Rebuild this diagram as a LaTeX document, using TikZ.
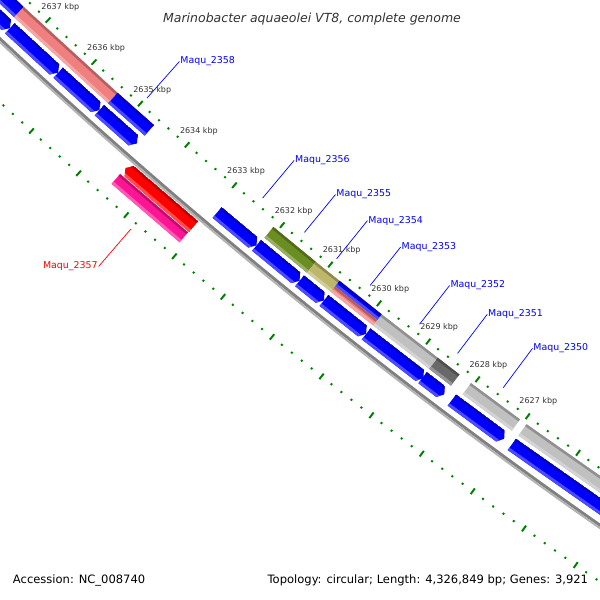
\documentclass[tikz,border=0pt]{standalone}
\usepackage{fontspec}
\setmainfont{DejaVu Sans}

\definecolor{cdsblue}{RGB}{0,0,255}
\definecolor{cdsred}{RGB}{255,0,0}
\definecolor{cogsalmon}{RGB}{240,128,128}
\definecolor{cogolive}{RGB}{107,142,35}
\definecolor{cogkhaki}{RGB}{189,183,107}
\definecolor{coggray}{RGB}{192,192,192}
\definecolor{cogdim}{RGB}{105,105,105}
\definecolor{cogpink}{RGB}{255,20,147}
\definecolor{tickgreen}{RGB}{0,128,0}
\definecolor{backbone}{RGB}{128,128,128}
\definecolor{ticktext}{RGB}{51,51,51}

% shaded band: from #1 to #2 kbp, radii #3 (inner) to #4 (outer), colour #5
\newcommand\featband[5]{%
  \fill[#5] ({ang(#1)}:{#3}) -- ({ang(#2)}:{#3}) -- ({ang(#2)}:{#4}) -- ({ang(#1)}:{#4}) -- cycle;
  \fill[#5!75!black] ({ang(#1)}:{#3}) -- ({ang(#2)}:{#3}) -- ({ang(#2)}:{#3+2.5}) -- ({ang(#1)}:{#3+2.5}) -- cycle;
  \fill[#5!70!white] ({ang(#1)}:{#4-3}) -- ({ang(#2)}:{#4-3}) -- ({ang(#2)}:{#4}) -- ({ang(#1)}:{#4}) -- cycle;}
% CDS with arrow: start #1, tip #2, shoulder #3, radii #4 to #5, colour #6
\newcommand\cdsarrow[6]{%
  \begin{scope}
    \clip ({ang(#1)}:{#4}) -- ({ang(#3)}:{#4}) -- ({ang(#2)}:{(#4+#5)/2}) -- ({ang(#3)}:{#5}) -- ({ang(#1)}:{#5}) -- cycle;
    \featband{#1}{#2}{#4}{#5}{#6}
  \end{scope}}

\begin{document}
\begin{tikzpicture}[x=0.025cm,y=-0.025cm,
  declare function={ang(\x)=126.24+(\x-2627)*0.665;},
  tick/.style={tickgreen,line width=1.4pt},
  kbplbl/.style={font=\fontsize{5.7}{6}\selectfont,text=ticktext,inner sep=0pt},
  genelbl/.style={font=\fontsize{6.7}{8}\selectfont,text=cdsblue,inner sep=0.5pt},
  lblline/.style={cdsblue,line width=0.5pt}]
\useasboundingbox (0,0) rectangle (600,600);
\clip (0,0) rectangle (600,600);

\begin{scope}[shift={(3698,-3909)}]
  % rulers
  \foreach \k in {2624,...,2638}{
    \draw[tick] ({ang(\k)}:5359.5) -- ({ang(\k)}:5366.5);
    \draw[tick] ({ang(\k)}:5452.5) -- ({ang(\k)}:5459.5);
    \foreach \j in {0.2,0.4,0.6,0.8}{
      \draw[tick] ({ang(\k+\j)}:5362) -- ({ang(\k+\j)}:5364);
      \draw[tick] ({ang(\k+\j)}:5455) -- ({ang(\k+\j)}:5457);
    }
  }
  \foreach \k in {2627,...,2637}
    \node[kbplbl] (t\k) at ({ang(\k)}:5345) {\k\ kbp};

  % backbone
  \draw[backbone,line width=2.1pt] ({ang(2639)}:5409.5)
    arc[start angle={ang(2639)},end angle={ang(2623)},radius=5409.5];
  \draw[backbone!60,line width=1.4pt] ({ang(2639)}:5412)
    arc[start angle={ang(2639)},end angle={ang(2623)},radius=5412];

  % COG slot
  \foreach \s/\e/\c in {2638.8/2637.43/cdsblue,2637.43/2635.39/cogsalmon,
      2635.39/2634.61/cdsblue,2632.09/2631.21/cogolive,2631.21/2630.72/cogkhaki,
      2629.86/2628.72/coggray,2628.72/2628.28/cogdim,2628.05/2627.07/coggray,
      2626.94/2623.5/coggray}{
    \featband{\s}{\e}{5370}{5384}{\c}
  }
  \featband{2630.72}{2629.86}{5370}{5377}{cdsblue}
  \featband{2630.72}{2629.86}{5377}{5384}{cogsalmon}

  % CDS slot, forward strand
  \foreach \s/\e in {2638.8/2637.36,2637.36/2636.31,2636.31/2635.42,2635.42/2634.62,
      2632.93/2632.11,2632.11/2631.22,2631.22/2630.72,2630.72/2629.86,2629.86/2628.70,
      2628.72/2628.28,2628.13/2627.09,2626.94/2623.5}{
    \cdsarrow{\s}{\e}{\e+0.08}{5388}{5402}{cdsblue}
  }

  % reverse strand
  \cdsarrow{2633.07}{2634.5}{2634.42}{5414}{5428}{cdsred}
  \featband{2634.5}{2633.08}{5429}{5442}{cogpink}

  % labels
  \foreach \g/\b in {2358/2634.98,2356/2632.52,2355/2631.65,2354/2630.98,
      2353/2630.29,2352/2629.28,2351/2628.51,2350/2627.59}{
    \coordinate (s\g) at ({ang(\b)}:5354.5);
    \node[genelbl,anchor=west] (m\g) at ({ang(\b)}:5305.5) {Maqu\_\g};
    \draw[lblline] (s\g) -- (m\g.west);
  }
  \coordinate (s2357) at ({ang(2633.8)}:5463.5);
  \node[genelbl,text=cdsred,anchor=east] (m2357) at ({ang(2633.8)}:5513) {Maqu\_2357};
  \draw[lblline,cdsred] (s2357) -- (m2357.east);
\end{scope}

\node[font=\fontsize{8.9}{10}\selectfont\itshape,text=ticktext] (title) at (312,19)
  {Marinobacter aquaeolei VT8, complete genome};
\node[font=\fontsize{8.2}{10}\selectfont,anchor=west] (acc) at (8,580) {Accession: NC\_008740};
\node[font=\fontsize{8.2}{10}\selectfont,anchor=east] (topo) at (593,580)
  {Topology: circular; Length: 4,326,849 bp; Genes: 3,921};
\end{tikzpicture}
\end{document}
